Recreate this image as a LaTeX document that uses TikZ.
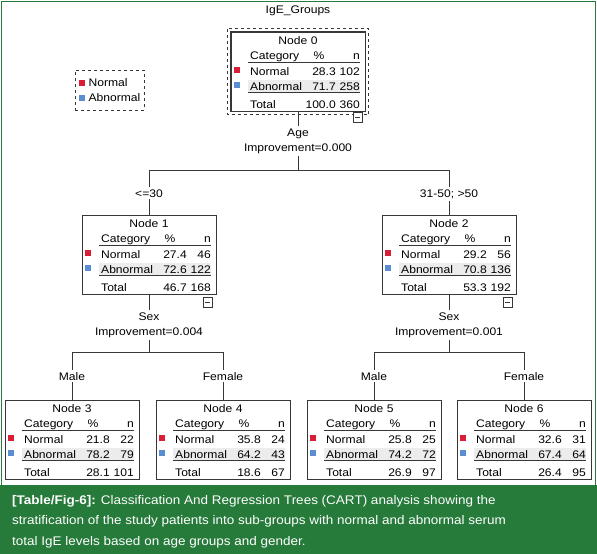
\documentclass[tikz,border=0pt]{standalone}
\usepackage{fontspec}
\setmainfont{Liberation Sans}
\newfontfamily\spss[FakeStretch=1.1]{Liberation Sans}
\newfontfamily\capfont[FakeStretch=1.08]{Liberation Sans}
\definecolor{figgreen}{RGB}{38,122,58}
\definecolor{normalred}{RGB}{218,30,55}
\definecolor{abnblue}{RGB}{90,142,208}
\definecolor{rowgrey}{RGB}{236,236,236}
\definecolor{boxline}{RGB}{55,55,55}

\tikzset{
  treetext/.style={font=\spss\fontsize{11}{15}\selectfont, inner sep=0pt},
  catframe/.style={draw=boxline, minimum width=134pt, minimum height=79pt, inner sep=0pt},
  splitlabel/.style={treetext, align=center, inner sep=2pt},
  branchlabel/.style={treetext, inner sep=2pt},
  treeline/.style={draw=boxline, thin},
  minusbox/.style={draw=boxline, fill=white, minimum width=9pt, minimum height=10pt, inner sep=0pt,
    path picture={\draw[boxline] ([xshift=2pt]path picture bounding box.west) -- ([xshift=-2pt]path picture bounding box.east);}},
  legendbox/.style={treetext, draw=boxline, dashed, minimum width=69pt, minimum height=40pt, align=left}
}

\newcommand{\legsq}[1]{{\color{#1}\rule{6pt}{6pt}}\hspace{4pt}}

% one category table of the tree, #2 = top left corner
\newcommand{\catnode}[9]{%
  \begin{scope}[shift={#2}]
    \fill[rowgrey] (17,48) rectangle (129,60.5);
    \node[catframe] (#1) at (67,39.5) {};
    \node[treetext, anchor=base] (#1-name) at (67,12.5) {Node #3};
    \node[treetext, anchor=base west] (#1-cat) at (19,27.5) {Category};
    \node[treetext, anchor=base] (#1-pct) at (88,27.5) {\%};
    \node[treetext, anchor=base east] (#1-n) at (129,27.5) {n};
    \draw[boxline] (17,30) -- (129,30);
    \fill[normalred] (3,35) rectangle (9,41);
    \node[treetext, anchor=base west] (#1-nor) at (19,43) {Normal};
    \node[treetext, anchor=base east] (#1-norp) at (105,43) {#4};
    \node[treetext, anchor=base east] (#1-norn) at (129,43) {#5};
    \fill[abnblue] (3,50) rectangle (9,56);
    \node[treetext, anchor=base west] (#1-abn) at (19,58) {Abnormal};
    \node[treetext, anchor=base east] (#1-abnp) at (105,58) {#6};
    \node[treetext, anchor=base east] (#1-abnn) at (129,58) {#7};
    \draw[boxline, line width=1.1pt] (17,60.5) -- (129,60.5);
    \node[treetext, anchor=base west] (#1-tot) at (19,76.5) {Total};
    \node[treetext, anchor=base east] (#1-totp) at (105,76.5) {#8};
    \node[treetext, anchor=base east] (#1-totn) at (129,76.5) {#9};
  \end{scope}}

\begin{document}
\begin{tikzpicture}[x=1pt,y=-1pt]
  \useasboundingbox (0,0) rectangle (597,554);
  % frame and caption band
  \draw[figgreen, line width=1.5pt] (1.5,554) -- (1.5,1.5) -- (595.5,1.5) -- (595.5,554);
  \fill[figgreen] (0,485) rectangle (597,554);
  \node[anchor=north west, inner sep=0pt, align=left, text=white,
        font=\capfont\fontsize{12.5}{20.5}\selectfont] (caption) at (12,495)
    {{\bfseries [Table/Fig-6]:} Classification And Regression Trees (CART) analysis showing the\\
     stratification of the study patients into sub-groups with normal and abnormal serum\\
     total IgE levels based on age groups and gender.};

  \node[treetext, anchor=base] (title) at (298,13) {IgE\_Groups};
  \node[legendbox] (legend) at (109.5,90) {\legsq{normalred}Normal\\\legsq{abnblue}Abnormal};

  % tables
  \catnode{n0}{(231,32)}{0}{28.3}{102}{71.7}{258}{100.0}{360}
  \draw[boxline, line width=1.4pt] (n0.south west) rectangle (n0.north east);
  \draw[boxline, dashed] (227.5,28.5) rectangle (368.5,114.5);
  \catnode{n1}{(82,215)}{1}{27.4}{46}{72.6}{122}{46.7}{168}
  \catnode{n2}{(382,215)}{2}{29.2}{56}{70.8}{136}{53.3}{192}
  \catnode{n3}{(5,400)}{3}{21.8}{22}{78.2}{79}{28.1}{101}
  \catnode{n4}{(156,400)}{4}{35.8}{24}{64.2}{43}{18.6}{67}
  \catnode{n5}{(307,400)}{5}{25.8}{25}{74.2}{72}{26.9}{97}
  \catnode{n6}{(457,400)}{6}{32.6}{31}{67.4}{64}{26.4}{95}

  \node[minusbox, anchor=north west] (n0min) at (353,112) {};
  \node[minusbox, anchor=north west] (n1min) at (203,297) {};
  \node[minusbox, anchor=north west] (n2min) at (503,297) {};

  % splits
  \node[splitlabel] (age) at (298,141) {Age\\Improvement=0.000};
  \node[splitlabel] (sexl) at (149,325) {Sex\\Improvement=0.004};
  \node[splitlabel] (sexr) at (449,325) {Sex\\Improvement=0.001};
  \coordinate (agefork) at (298,170);
  \coordinate (sexlfork) at (149,352);
  \coordinate (sexrfork) at (449,352);

  \node[branchlabel, anchor=base] (young) at (149,197) {<=30};
  \node[branchlabel, anchor=base] (older) at (449,197) {31-50; >50};
  \node[branchlabel, anchor=base] (male1) at (72,380) {Male};
  \node[branchlabel, anchor=base] (female1) at (223,380) {Female};
  \node[branchlabel, anchor=base] (male2) at (374,380) {Male};
  \node[branchlabel, anchor=base] (female2) at (524,380) {Female};

  \draw[treeline] (n0) -- (age);
  \draw[treeline] (age) -- (agefork);
  \draw[treeline] (agefork) -| (young);
  \draw[treeline] (agefork) -| (older);
  \draw[treeline] (young) -- (n1);
  \draw[treeline] (older) -- (n2);

  \draw[treeline] (n1) -- (sexl);
  \draw[treeline] (sexl) -- (sexlfork);
  \draw[treeline] (sexlfork) -| (male1);
  \draw[treeline] (sexlfork) -| (female1);
  \draw[treeline] (male1) -- (n3);
  \draw[treeline] (female1) -- (n4);

  \draw[treeline] (n2) -- (sexr);
  \draw[treeline] (sexr) -- (sexrfork);
  \draw[treeline] (sexrfork) -| (male2);
  \draw[treeline] (sexrfork) -| (female2);
  \draw[treeline] (male2) -- (n5);
  \draw[treeline] (female2) -- (n6);
\end{tikzpicture}
\end{document}
